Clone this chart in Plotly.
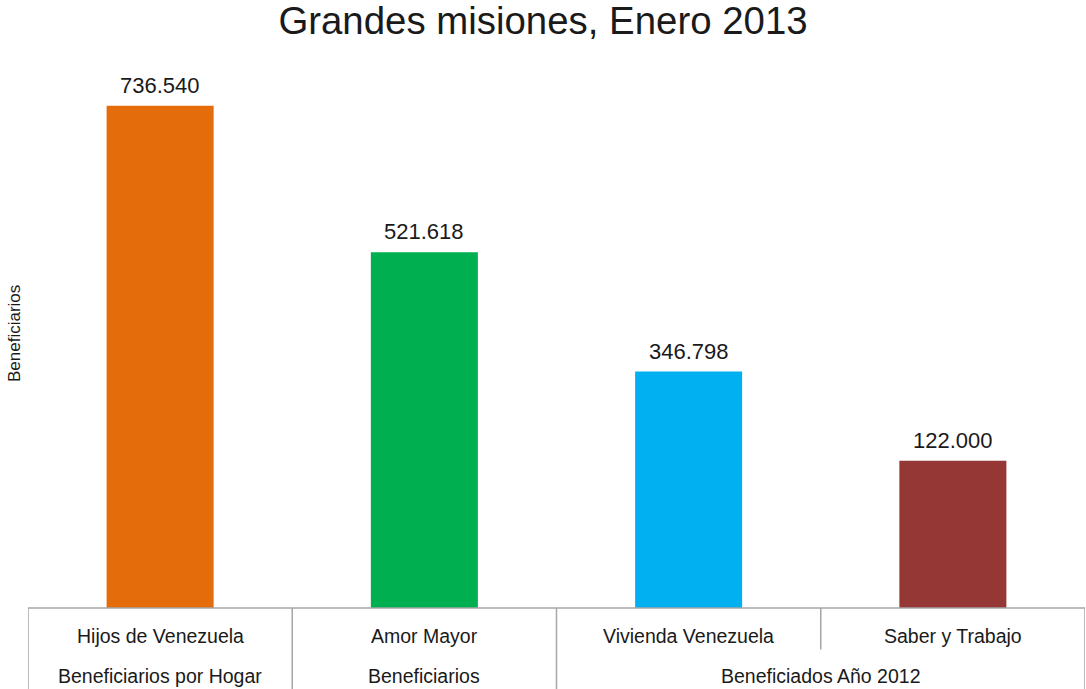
import plotly.graph_objects as go

# ---- data ----
categories = ["Hijos de Venezuela", "Amor Mayor", "Vivienda Venezuela", "Saber y Trabajo"]
groups = ["Beneficiarios por Hogar", "Beneficiarios", "Beneficiados Año 2012", "Beneficiados Año 2012"]
values = [736540, 521618, 346798, 216000]          # bar heights as drawn in the reference
value_labels = ["736.540", "521.618", "346.798", "122.000"]
colors = ["#E46C0A", "#00B050", "#00B0F0", "#953735"]

title_text = "Grandes misiones, Enero 2013"
y_title = "Beneficiarios"

FONT = "Liberation Sans, Arial, sans-serif"

W, H = 1086, 689
M_L, M_R, M_T, M_B = 28, 1, 60, 81
plot_h = H - M_T - M_B

def py(px_below):
    """paper y for a distance (px) below the plot bottom"""
    return -px_below / plot_h

fig = go.Figure()
fig.add_trace(go.Bar(
    x=categories, y=values,
    marker=dict(color=colors, line=dict(width=0)),
    width=0.405,
    hoverinfo="skip",
))

shapes = []
annotations = []
line_style = dict(color="#a6a6a6", width=1.5)
n = len(categories)

# value labels above the bars
for c, v, lab in zip(categories, values, value_labels):
    annotations.append(dict(x=c, xref="x", y=v, yref="y", text=lab, showarrow=False,
                            xanchor="center", yanchor="bottom", yshift=6,
                            font=dict(family=FONT, size=22, color="#1a1a1a")))

# top line of the category table
shapes.append(dict(type="line", xref="x", yref="paper", x0=-0.5, x1=n - 0.5,
                   y0=0, y1=0, line=line_style))

# vertical dividers
for i in range(n + 1):
    xpos = i - 0.5
    if i == 0 or i == n or groups[i - 1] != groups[i]:
        y1 = py(H)  # full height of the table
    else:
        y1 = py(41.5)  # only through the first row
    shapes.append(dict(type="line", xref="x", yref="paper", x0=xpos, x1=xpos,
                       y0=0, y1=y1, line=line_style))

# first-row labels
for i, c in enumerate(categories):
    annotations.append(dict(x=i, xref="x", y=py(27.5), yref="paper", text=c,
                            showarrow=False, xanchor="center", yanchor="middle",
                            font=dict(family=FONT, size=19.5, color="#1a1a1a")))

# second-row group labels (merged spans)
start = 0
for i in range(1, n + 1):
    if i == n or groups[i] != groups[start]:
        center = (start + i - 1) / 2
        annotations.append(dict(x=center, xref="x", y=py(67.5), yref="paper",
                                text=groups[start], showarrow=False,
                                xanchor="center", yanchor="middle",
                                font=dict(family=FONT, size=19.5, color="#1a1a1a")))
        start = i

# y-axis title
annotations.append(dict(x=(14 - M_L) / (W - M_L - M_R), xref="paper", y=0.5, yref="paper",
                        text=y_title, showarrow=False, textangle=-90,
                        xanchor="center", yanchor="middle",
                        font=dict(family=FONT, size=17, color="#1a1a1a")))

fig.update_layout(
    width=W, height=H,
    margin=dict(l=M_L, r=M_R, t=M_T, b=M_B, pad=0, autoexpand=False),
    paper_bgcolor="white", plot_bgcolor="white",
    showlegend=False,
    title=dict(text=title_text, x=0.5, xanchor="center", xref="container",
               y=1 - 21 / H, yanchor="middle", yref="container",
               font=dict(family=FONT, size=38.4, color="#1a1a1a")),
    xaxis=dict(type="category", showticklabels=False, showgrid=False, zeroline=False,
               showline=False, ticks="", range=[-0.5, n - 0.5], automargin=False),
    yaxis=dict(range=[0, 803600], showticklabels=False, showgrid=False, zeroline=False,
               showline=False, ticks="", automargin=False),
    shapes=shapes, annotations=annotations,
)

fig.write_html("out.html", config={"displayModeBar": False},
               post_script="document.body.style.margin='0';")
